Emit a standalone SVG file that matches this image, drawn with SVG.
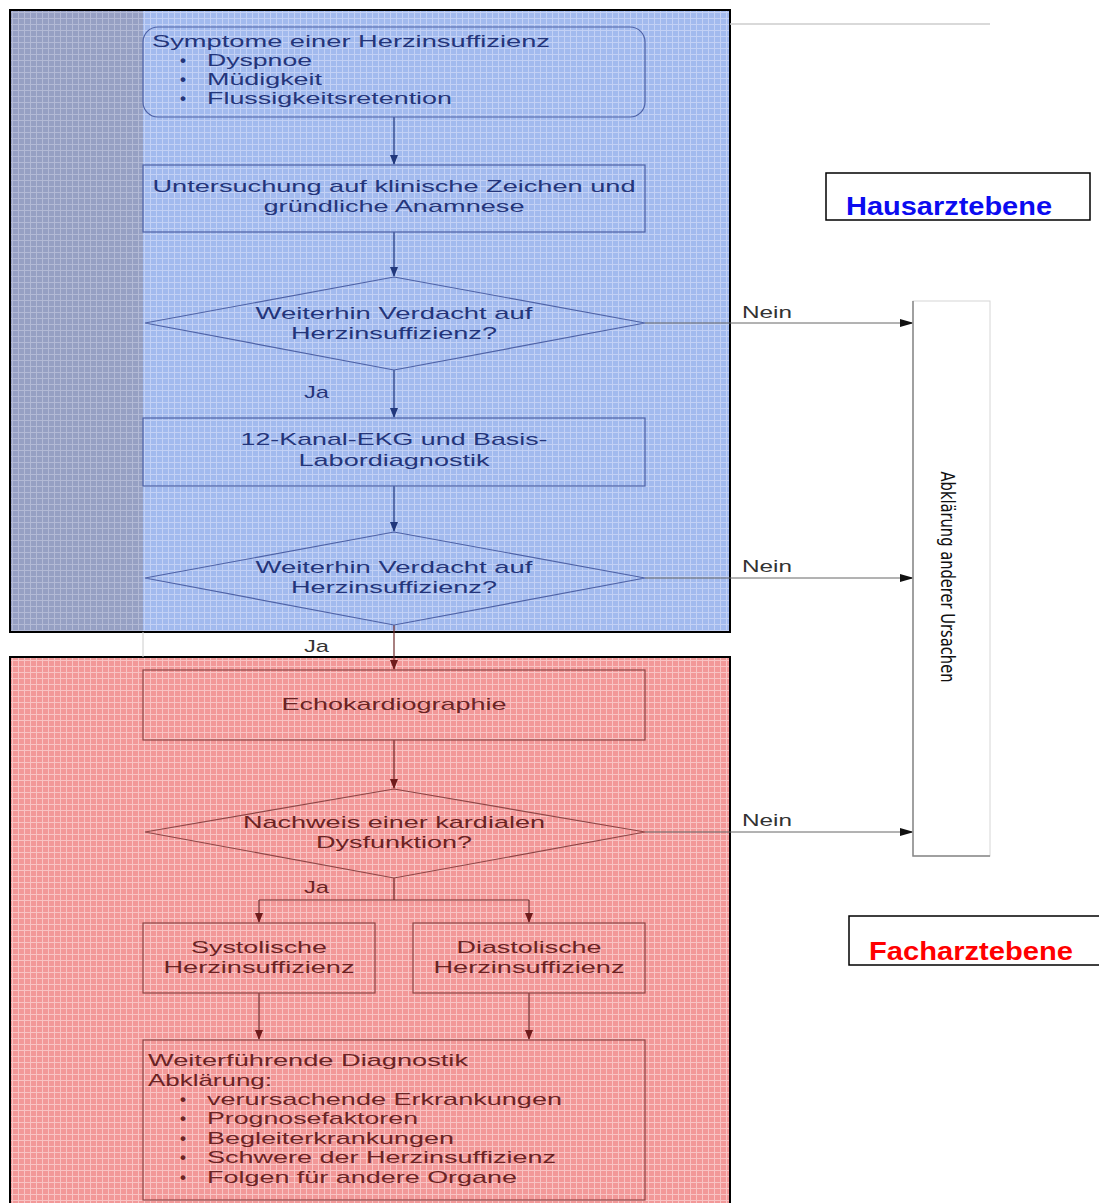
<svg xmlns="http://www.w3.org/2000/svg" width="1099" height="1203" viewBox="0 0 1099 1203">
<defs>
<pattern id="gBlue" width="6" height="6" patternUnits="userSpaceOnUse">
<rect width="6" height="6" fill="#a2baee"/>
<path d="M0 0.5H6M0.5 0V6" stroke="#c3d1f5" stroke-width="1"/>
</pattern>
<pattern id="gGray" width="6" height="6" patternUnits="userSpaceOnUse">
<rect width="6" height="6" fill="#96a0c3"/>
<path d="M0 0.5H6M0.5 0V6" stroke="#b3bad5" stroke-width="1"/>
</pattern>
<pattern id="gRed" width="6" height="6" patternUnits="userSpaceOnUse">
<rect width="6" height="6" fill="#f29898"/>
<path d="M0 0.5H6M0.5 0V6" stroke="#f8c4c4" stroke-width="1"/>
</pattern>
<marker id="aB" markerWidth="10" markerHeight="10" refX="9" refY="5" orient="auto" markerUnits="userSpaceOnUse">
<path d="M0 1L10 5L0 9Z" fill="#22387c"/>
</marker>
<marker id="aR" markerWidth="10" markerHeight="10" refX="9" refY="5" orient="auto" markerUnits="userSpaceOnUse">
<path d="M0 1L10 5L0 9Z" fill="#6e1c1c"/>
</marker>
<marker id="aK" markerWidth="14" markerHeight="10" refX="13" refY="5" orient="auto" markerUnits="userSpaceOnUse">
<path d="M0 1L14 5L0 9Z" fill="#111"/>
</marker>
</defs>
<style>
text{font-family:"Liberation Sans",Arial,sans-serif;font-size:17px}
.tb{fill:#24357a}
.tr{fill:#6a2424}
.bu{font-weight:bold}
.sb{fill:none;stroke:#4e62a6;stroke-width:1.2}
.sr{fill:none;stroke:#8e4646;stroke-width:1.2}
.cb{stroke:#22387c;stroke-width:1.2;fill:none}
.cr{stroke:#6e2a2a;stroke-width:1.2;fill:none}
.ck{stroke:#666;stroke-width:1;fill:none}
.lbl{fill:#333}
.lvl{font-weight:bold;font-size:25px}
</style>
<rect width="1099" height="1203" fill="#fff"/>
<g id="bg">
<rect x="10" y="10" width="720" height="622" fill="url(#gBlue)"/>
<rect x="10" y="10" width="133" height="622" fill="url(#gGray)"/>
<rect x="10" y="10" width="720" height="622" fill="none" stroke="#000" stroke-width="2"/>
<rect x="10" y="657" width="720" height="548" fill="url(#gRed)" stroke="#000" stroke-width="2"/>
<line x1="143" y1="632" x2="143" y2="657" stroke="#ccc" stroke-width="1"/>
<line x1="730" y1="24" x2="990" y2="24" stroke="#ccc" stroke-width="1.5"/>
</g>
<g id="connectors">
<line class="cb" x1="394" y1="117" x2="394" y2="164" marker-end="url(#aB)"/>
<line class="cb" x1="394" y1="232" x2="394" y2="276" marker-end="url(#aB)"/>
<line class="cb" x1="394" y1="370" x2="394" y2="417" marker-end="url(#aB)"/>
<line class="cb" x1="394" y1="486" x2="394" y2="531" marker-end="url(#aB)"/>
<line class="cr" x1="394" y1="625" x2="394" y2="669" marker-end="url(#aR)"/>
<line class="cr" x1="394" y1="740" x2="394" y2="788" marker-end="url(#aR)"/>
<path class="cr" d="M394 878V900M259 900H529"/>
<line class="cr" x1="259" y1="900" x2="259" y2="922" marker-end="url(#aR)"/>
<line class="cr" x1="529" y1="900" x2="529" y2="922" marker-end="url(#aR)"/>
<line class="cr" x1="259" y1="993" x2="259" y2="1039" marker-end="url(#aR)"/>
<line class="cr" x1="529" y1="993" x2="529" y2="1039" marker-end="url(#aR)"/>
<line class="ck" x1="645" y1="323" x2="913" y2="323" marker-end="url(#aK)"/>
<line class="ck" x1="645" y1="578" x2="913" y2="578" marker-end="url(#aK)"/>
<line class="ck" x1="645" y1="832" x2="913" y2="832" marker-end="url(#aK)"/>
<text class="lbl" x="742" y="318" textLength="50" lengthAdjust="spacingAndGlyphs">Nein</text>
<text class="lbl" x="742" y="572" textLength="50" lengthAdjust="spacingAndGlyphs">Nein</text>
<text class="lbl" x="742" y="826" textLength="50" lengthAdjust="spacingAndGlyphs">Nein</text>
<text class="tb" x="304" y="398" textLength="25" lengthAdjust="spacingAndGlyphs">Ja</text>
<text class="lbl" x="304" y="652" textLength="25" lengthAdjust="spacingAndGlyphs">Ja</text>
<text class="tr" x="304" y="893" textLength="25" lengthAdjust="spacingAndGlyphs">Ja</text>
</g>
<g id="n-symptome">
<rect class="sb" x="143" y="27" width="502" height="90" rx="15"/>
<text class="tb" x="152" y="47" textLength="398" lengthAdjust="spacingAndGlyphs">Symptome einer Herzinsuffizienz</text>
<text class="tb bu" x="180" y="66">•</text><text class="tb" x="207" y="66" textLength="105" lengthAdjust="spacingAndGlyphs">Dyspnoe</text>
<text class="tb bu" x="180" y="85">•</text><text class="tb" x="207" y="85" textLength="115" lengthAdjust="spacingAndGlyphs">Müdigkeit</text>
<text class="tb bu" x="180" y="104">•</text><text class="tb" x="207" y="104" textLength="245" lengthAdjust="spacingAndGlyphs">Flussigkeitsretention</text>
</g>
<g id="n-untersuchung">
<rect class="sb" x="143" y="165" width="502" height="67"/>
<text class="tb" x="394" y="192" text-anchor="middle" textLength="483" lengthAdjust="spacingAndGlyphs">Untersuchung auf klinische Zeichen und</text>
<text class="tb" x="394" y="212" text-anchor="middle" textLength="261" lengthAdjust="spacingAndGlyphs">gründliche Anamnese</text>
</g>
<g id="n-verdacht1">
<polygon class="sb" points="394,277 645,323 394,370 145,323"/>
<text class="tb" x="394" y="319" text-anchor="middle" textLength="277" lengthAdjust="spacingAndGlyphs">Weiterhin Verdacht auf</text>
<text class="tb" x="394" y="339" text-anchor="middle" textLength="206" lengthAdjust="spacingAndGlyphs">Herzinsuffizienz?</text>
</g>
<g id="n-ekg">
<rect class="sb" x="143" y="418" width="502" height="68"/>
<text class="tb" x="394" y="445" text-anchor="middle" textLength="307" lengthAdjust="spacingAndGlyphs">12-Kanal-EKG und Basis-</text>
<text class="tb" x="394" y="466" text-anchor="middle" textLength="191" lengthAdjust="spacingAndGlyphs">Labordiagnostik</text>
</g>
<g id="n-verdacht2">
<polygon class="sb" points="394,532 645,578 394,625 145,578"/>
<text class="tb" x="394" y="573" text-anchor="middle" textLength="277" lengthAdjust="spacingAndGlyphs">Weiterhin Verdacht auf</text>
<text class="tb" x="394" y="593" text-anchor="middle" textLength="206" lengthAdjust="spacingAndGlyphs">Herzinsuffizienz?</text>
</g>
<g id="n-echo">
<rect class="sr" x="143" y="670" width="502" height="70"/>
<text class="tr" x="394" y="710" text-anchor="middle" textLength="225" lengthAdjust="spacingAndGlyphs">Echokardiographie</text>
</g>
<g id="n-nachweis">
<polygon class="sr" points="394,789 645,832 394,878 145,832"/>
<text class="tr" x="394" y="828" text-anchor="middle" textLength="302" lengthAdjust="spacingAndGlyphs">Nachweis einer kardialen</text>
<text class="tr" x="394" y="848" text-anchor="middle" textLength="156" lengthAdjust="spacingAndGlyphs">Dysfunktion?</text>
</g>
<g id="n-systolisch">
<rect class="sr" x="143" y="923" width="232" height="70"/>
<text class="tr" x="259" y="953" text-anchor="middle" textLength="136" lengthAdjust="spacingAndGlyphs">Systolische</text>
<text class="tr" x="259" y="973" text-anchor="middle" textLength="191" lengthAdjust="spacingAndGlyphs">Herzinsuffizienz</text>
</g>
<g id="n-diastolisch">
<rect class="sr" x="413" y="923" width="232" height="70"/>
<text class="tr" x="529" y="953" text-anchor="middle" textLength="145" lengthAdjust="spacingAndGlyphs">Diastolische</text>
<text class="tr" x="529" y="973" text-anchor="middle" textLength="191" lengthAdjust="spacingAndGlyphs">Herzinsuffizienz</text>
</g>
<g id="n-weiter">
<rect class="sr" x="143" y="1040" width="502" height="160"/>
<text class="tr" x="148" y="1066" textLength="320" lengthAdjust="spacingAndGlyphs">Weiterführende Diagnostik</text>
<text class="tr" x="148" y="1086" textLength="124" lengthAdjust="spacingAndGlyphs">Abklärung:</text>
<text class="tr bu" x="180" y="1105">•</text><text class="tr" x="207" y="1105" textLength="355" lengthAdjust="spacingAndGlyphs">verursachende Erkrankungen</text>
<text class="tr bu" x="180" y="1124">•</text><text class="tr" x="207" y="1124" textLength="211" lengthAdjust="spacingAndGlyphs">Prognosefaktoren</text>
<text class="tr bu" x="180" y="1144">•</text><text class="tr" x="207" y="1144" textLength="247" lengthAdjust="spacingAndGlyphs">Begleiterkrankungen</text>
<text class="tr bu" x="180" y="1163">•</text><text class="tr" x="207" y="1163" textLength="349" lengthAdjust="spacingAndGlyphs">Schwere der Herzinsuffizienz</text>
<text class="tr bu" x="180" y="1183">•</text><text class="tr" x="207" y="1183" textLength="310" lengthAdjust="spacingAndGlyphs">Folgen für andere Organe</text>
</g>
<g id="n-abklaerung">
<rect x="913" y="301" width="77" height="555" fill="#fff" stroke="#d6d6d6" stroke-width="1"/>
<path d="M913 301V856H990" fill="none" stroke="#888" stroke-width="1.5"/>
<text transform="translate(941,577) rotate(90)" x="0" y="0" text-anchor="middle" style="font-family:'Liberation Sans Narrow','DejaVu Sans Condensed','Liberation Sans',sans-serif;font-size:20px;fill:#111" textLength="211" lengthAdjust="spacingAndGlyphs">Abklärung anderer Ursachen</text>
</g>
<g id="n-hausarzt">
<rect x="826" y="173" width="264" height="47" fill="#fff" stroke="#000" stroke-width="1.5"/>
<text class="lvl" x="846" y="215" fill="#0b0bf0" textLength="206" lengthAdjust="spacingAndGlyphs">Hausarztebene</text>
</g>
<g id="n-facharzt">
<rect x="849" y="916" width="260" height="49" fill="#fff" stroke="#000" stroke-width="1.5"/>
<text class="lvl" x="869" y="960" fill="#f00" textLength="204" lengthAdjust="spacingAndGlyphs">Facharztebene</text>
</g>
</svg>
